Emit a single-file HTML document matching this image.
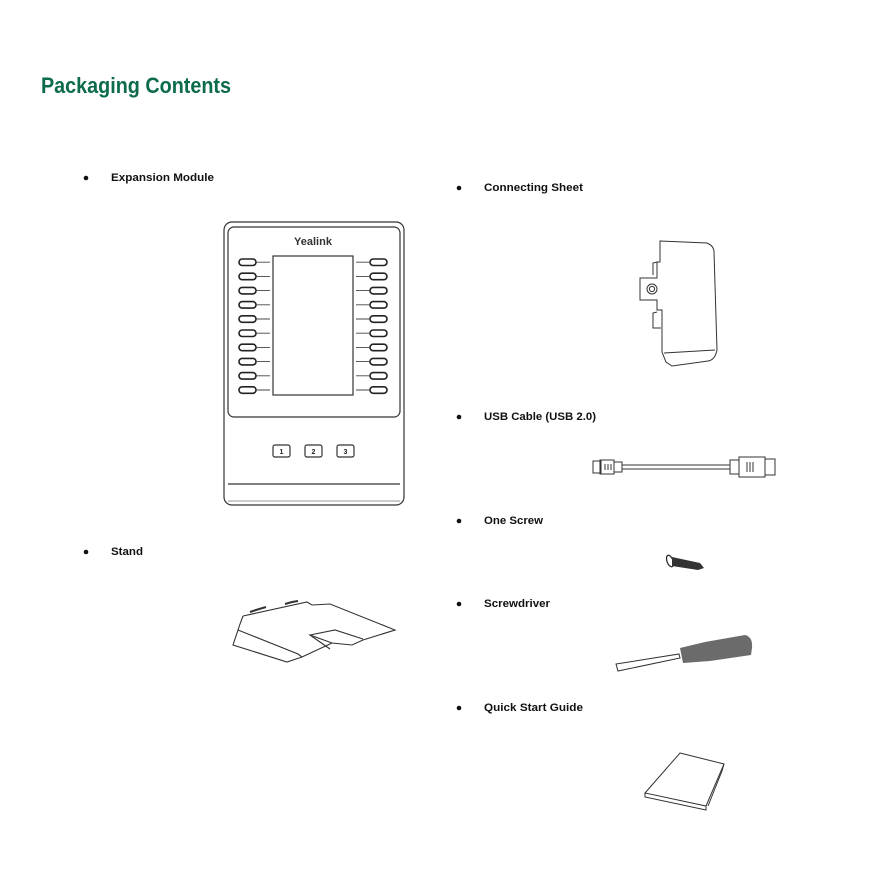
<!DOCTYPE html>
<html><head><meta charset="utf-8"><style>
html,body{margin:0;padding:0;background:#fff}
svg{display:block}
.l{font-family:"Liberation Sans",sans-serif;font-weight:bold;font-size:11px;fill:#111}
</style></head><body>
<svg width="892" height="892" viewBox="0 0 892 892" xmlns="http://www.w3.org/2000/svg">
<text x="41" y="93" font-family="Liberation Sans,sans-serif" font-weight="bold" font-size="22" fill="#0c6b4b" textLength="190" lengthAdjust="spacingAndGlyphs">Packaging Contents</text>

<g fill="#111">
<circle cx="86" cy="178" r="2.3"/><circle cx="86" cy="552" r="2.3"/>
<circle cx="459" cy="188" r="2.3"/><circle cx="459" cy="417" r="2.3"/>
<circle cx="459" cy="521" r="2.3"/><circle cx="459" cy="604" r="2.3"/>
<circle cx="459" cy="708" r="2.3"/>
</g>
<text class="l" x="111" y="181" textLength="103" lengthAdjust="spacingAndGlyphs">Expansion Module</text>
<text class="l" x="111" y="555" textLength="32" lengthAdjust="spacingAndGlyphs">Stand</text>
<text class="l" x="484" y="191" textLength="99" lengthAdjust="spacingAndGlyphs">Connecting Sheet</text>
<text class="l" x="484" y="420" textLength="112" lengthAdjust="spacingAndGlyphs">USB Cable (USB 2.0)</text>
<text class="l" x="484" y="524" textLength="59" lengthAdjust="spacingAndGlyphs">One Screw</text>
<text class="l" x="484" y="607" textLength="66" lengthAdjust="spacingAndGlyphs">Screwdriver</text>
<text class="l" x="484" y="711" textLength="99" lengthAdjust="spacingAndGlyphs">Quick Start Guide</text>

<!-- expansion module -->
<g fill="none" stroke="#333" stroke-width="1.2">
<rect x="224" y="222" width="180" height="283" rx="8"/>
<rect x="228" y="227" width="172" height="190" rx="6"/>
<rect x="273" y="256" width="80" height="139"/>
<line x1="228" y1="484" x2="400" y2="484"/>
<line x1="228" y1="501" x2="400" y2="501" stroke-width="0.6"/>
<rect x="273" y="445" width="17" height="12" rx="2"/>
<rect x="305" y="445" width="17" height="12" rx="2"/>
<rect x="337" y="445" width="17" height="12" rx="2"/>
</g>
<g font-family="Liberation Sans,sans-serif" font-size="7" font-weight="bold" fill="#222" text-anchor="middle">
<text x="281.5" y="454">1</text><text x="313.5" y="454">2</text><text x="345.5" y="454">3</text>
</g>
<text x="313" y="245" text-anchor="middle" font-family="Liberation Sans,sans-serif" font-weight="bold" font-size="11" fill="#333">Yealink</text>
<g fill="none" stroke="#222" stroke-width="1.6">
<rect x="239" y="259" width="17" height="6.5" rx="3.2"/>
<rect x="239" y="273.2" width="17" height="6.5" rx="3.2"/>
<rect x="239" y="287.4" width="17" height="6.5" rx="3.2"/>
<rect x="239" y="301.6" width="17" height="6.5" rx="3.2"/>
<rect x="239" y="315.8" width="17" height="6.5" rx="3.2"/>
<rect x="239" y="330" width="17" height="6.5" rx="3.2"/>
<rect x="239" y="344.2" width="17" height="6.5" rx="3.2"/>
<rect x="239" y="358.4" width="17" height="6.5" rx="3.2"/>
<rect x="239" y="372.6" width="17" height="6.5" rx="3.2"/>
<rect x="239" y="386.8" width="17" height="6.5" rx="3.2"/>
<rect x="370" y="259" width="17" height="6.5" rx="3.2"/>
<rect x="370" y="273.2" width="17" height="6.5" rx="3.2"/>
<rect x="370" y="287.4" width="17" height="6.5" rx="3.2"/>
<rect x="370" y="301.6" width="17" height="6.5" rx="3.2"/>
<rect x="370" y="315.8" width="17" height="6.5" rx="3.2"/>
<rect x="370" y="330" width="17" height="6.5" rx="3.2"/>
<rect x="370" y="344.2" width="17" height="6.5" rx="3.2"/>
<rect x="370" y="358.4" width="17" height="6.5" rx="3.2"/>
<rect x="370" y="372.6" width="17" height="6.5" rx="3.2"/>
<rect x="370" y="386.8" width="17" height="6.5" rx="3.2"/>
</g>
<g stroke="#444" stroke-width="0.9">
<path d="M256 262.2H270M256 276.4H270M256 290.6H270M256 304.8H270M256 319H270M256 333.2H270M256 347.4H270M256 361.6H270M256 375.8H270M256 390H270"/>
<path d="M356 262.2H370M356 276.4H370M356 290.6H370M356 304.8H370M356 319H370M356 333.2H370M356 347.4H370M356 361.6H370M356 375.8H370M356 390H370"/>
</g>

<!-- stand -->
<g fill="none" stroke="#333" stroke-width="1.1">
<path d="M243 616 L307 602 L312 605 L330 604 L395 630 L363 640 L352 645 L332 643 L310 635 L335 630 L363 639"/>
<path d="M243 616 L240 624 L238 630 L233 645 L287 662 L302 657 L332 643"/>
<path d="M238 630 L298 654 L302 657"/>
<path d="M250 612 L256 610 L266 607 M285 604 L292 602 L298 601" stroke-width="2"/>
<path d="M310 635 L330 649"/>
</g>

<!-- connecting sheet -->
<g fill="none" stroke="#333" stroke-width="1">
<path d="M660 241 L707 243 Q714 246 714 252 L717 350 Q715 360 708 361 L672 366 L666 362 L662 352 L662 310 L657 310 L657 300 L640 300 L640 278 L657 278 L657 262 L660 262 Z"/>
<path d="M664 353 L715 350"/>
<path d="M657 262 L653 263 L653 275 M657 312 L653 313 L653 328 L661 328"/>
<circle cx="652" cy="289" r="5"/><circle cx="652" cy="289" r="2.6"/>
</g>

<!-- usb cable -->
<g fill="none" stroke="#333" stroke-width="1">
<rect x="593" y="461" width="8" height="12"/>
<rect x="600" y="460" width="14" height="14"/>
<path d="M605 464v6M608 464v6M611 464v6"/>
<rect x="614" y="462" width="8" height="10"/>
<path d="M622 465 H730 M622 469 H730"/>
<rect x="730" y="460" width="9" height="14"/>
<rect x="739" y="457" width="26" height="20"/>
<path d="M747 462v10M750 462v10M753 462v10"/>
<rect x="765" y="459" width="10" height="16"/>
</g>

<!-- screw -->
<g>
<ellipse cx="670" cy="561" rx="3" ry="6" fill="#fff" stroke="#222" stroke-width="1.2" transform="rotate(-20 670 561)"/>
<path d="M672 557 L700 563 L704 568 L698 570 L672 566 Z" fill="#333"/>
</g>

<!-- screwdriver -->
<g>
<path d="M616 664 L618 671 L680 658 L679 654 Z" fill="#fff" stroke="#333" stroke-width="1"/>
<path d="M680 648 L705 642 L745 635 Q753 637 752 648 L751 655 L710 661 L683 663 Z" fill="#6b6b6b"/>
</g>

<!-- quick start guide -->
<g fill="none" stroke="#333" stroke-width="1">
<path d="M680 753 L724 764 L706 806 L645 793 Z"/>
<path d="M645 793 L645 797 L706 810 L706 806"/>
<path d="M724 764 L722 771 L708 806"/>
</g>
</svg>
</body></html>
